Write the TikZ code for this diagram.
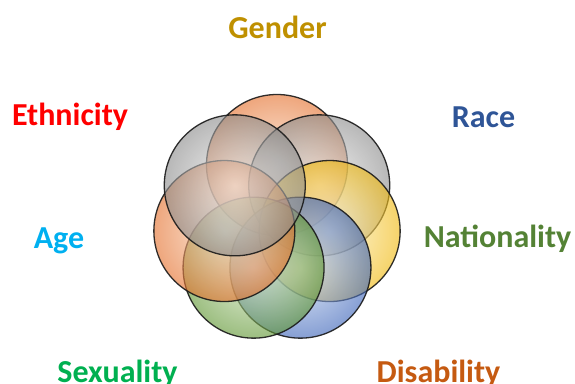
\documentclass[tikz,border=0pt]{standalone}
\usepackage{fontspec}
\setmainfont{Carlito}
\usetikzlibrary{calc}
\definecolor{cGender}{RGB}{191,144,0}
\definecolor{cEth}{RGB}{255,0,0}
\definecolor{cRace}{RGB}{47,85,151}
\definecolor{cAge}{RGB}{0,176,240}
\definecolor{cNat}{RGB}{84,130,53}
\definecolor{cSex}{RGB}{0,176,80}
\definecolor{cDis}{RGB}{197,90,17}
\definecolor{orEdge}{RGB}{228,112,45}
\definecolor{orIn}{RGB}{250,222,200}
\definecolor{grEdge}{RGB}{140,140,140}
\definecolor{grIn}{RGB}{238,238,238}
\definecolor{yeEdge}{RGB}{240,185,15}
\definecolor{yeIn}{RGB}{255,243,200}
\definecolor{gnEdge}{RGB}{95,150,50}
\definecolor{gnIn}{RGB}{220,235,205}
\definecolor{blEdge}{RGB}{60,100,185}
\definecolor{blIn}{RGB}{210,224,246}
\tikzset{
  ring/.style={circle, inner sep=0pt, minimum size=141pt, shading=radial,
    fill opacity=0.62, draw=black!90, draw opacity=0.9, line width=1.3pt},
  ringor/.style={ring, inner color=orIn, outer color=orEdge},
  ringgr/.style={ring, inner color=grIn, outer color=grEdge},
  ringye/.style={ring, inner color=yeIn, outer color=yeEdge},
  ringgn/.style={ring, inner color=gnIn, outer color=gnEdge},
  ringbl/.style={ring, inner color=blIn, outer color=blEdge},
  lbl/.style={anchor=base, inner sep=0pt, font=\fontsize{32}{38}\selectfont\bfseries}
}
\begin{document}
\begin{tikzpicture}[x=1pt,y=-1pt]
\useasboundingbox (0,0) rectangle (575,383);
\coordinate (c) at (277,219);
% circles on a regular heptagon, radius 54 (image y downwards)
\node[ringor] (gender) at ($(c)+(0,-54)$) {};
\node[ringgr] (race) at ($(c)+({54*cos(38.57)},{-54*sin(38.57)})$) {};
\node[ringye] (nation) at ($(c)+({54*cos(-12.86)},{-54*sin(-12.86)})$) {};
\node[ringbl] (disab) at ($(c)+({54*cos(-64.29)},{-54*sin(-64.29)})$) {};
\node[ringgn] (sexual) at ($(c)+({54*cos(-115.71)},{-54*sin(-115.71)})$) {};
\node[ringor] (age) at ($(c)+({54*cos(192.86)},{-54*sin(192.86)})$) {};
\node[ringgr] (ethnic) at ($(c)+({54*cos(141.43)},{-54*sin(141.43)})$) {};
% labels
\node[lbl, text=cGender] (lgender) at (277.5,38) {Gender};
\node[lbl, text=cEth] (leth) at (70,125) {Ethnicity};
\node[lbl, text=cRace] (lrace) at (483.5,127) {Race};
\node[lbl, text=cAge] (lage) at (59,248) {Age};
\node[lbl, text=cNat] (lnat) at (497.5,247) {Nationality};
\node[lbl, text=cSex] (lsex) at (117.5,382.5) {Sexuality};
\node[lbl, text=cDis] (ldis) at (438.5,382.5) {Disability};
\end{tikzpicture}
\end{document}
